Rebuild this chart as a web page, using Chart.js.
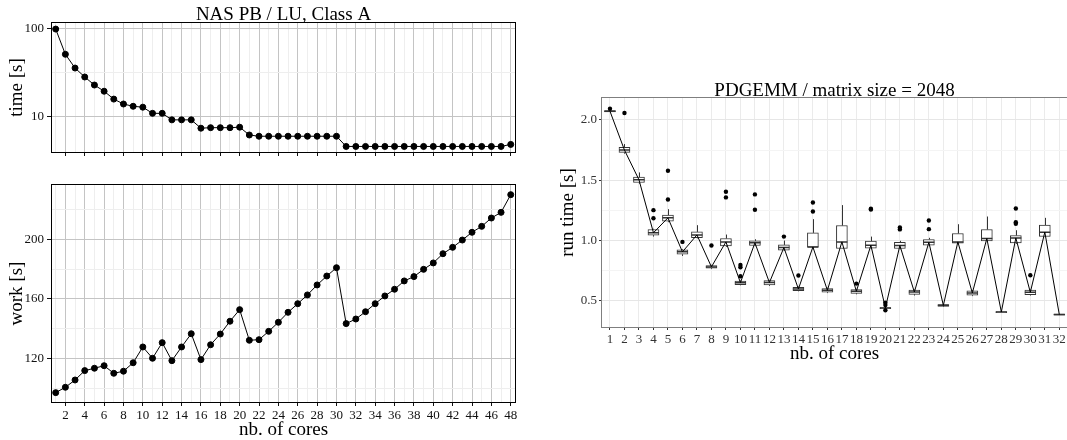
<!DOCTYPE html>
<html>
<head>
<meta charset="utf-8">
<script src="https://cdn.jsdelivr.net/npm/chart.js@4.4.1/dist/chart.umd.min.js"></script>
<style>
  body { margin: 0; background: #fff; }
  .panel { position: absolute; }
</style>
</head>
<body>
<div class="panel" style="left:0;top:0;width:530px;height:160px"><canvas id="timeChart" width="530" height="160"></canvas></div>
<div class="panel" style="left:0;top:160px;width:530px;height:280px"><canvas id="workChart" width="530" height="280"></canvas></div>
<div class="panel" style="left:530px;top:0;width:537px;height:440px"><canvas id="pdgemmChart" width="537" height="440"></canvas></div>
<script>
// NAS PB / LU, Class A
var nasCores = [1, 2, 3, 4, 5, 6, 7, 8, 9, 10, 11, 12, 13, 14, 15, 16, 17, 18, 19, 20, 21, 22, 23, 24,
  25, 26, 27, 28, 29, 30, 31, 32, 33, 34, 35, 36, 37, 38, 39, 40, 41, 42, 43, 44, 45, 46, 47, 48];
var nasTime = [98, 50.8, 35.5, 28.1, 22.8, 19.4, 15.8, 13.9, 13.1, 12.8, 10.9, 10.9, 9.2, 9.2, 9.2, 7.4,
  7.5, 7.5, 7.5, 7.6, 6.2, 6.0, 6.0, 6.0, 6.0, 6.0, 6.0, 6.0, 6.0, 6.0, 4.6, 4.6, 4.6, 4.6, 4.6, 4.6,
  4.6, 4.6, 4.6, 4.6, 4.6, 4.6, 4.6, 4.6, 4.6, 4.6, 4.6, 4.85];
var nasWork = [96.9, 100.5, 105.4, 111.7, 113.3, 115.0, 109.9, 111.3, 117.0, 127.6, 120.0, 130.5, 118.4,
  127.6, 136.5, 119.1, 129.1, 136.3, 144.9, 152.7, 132.1, 132.5, 138.1, 144.2, 150.9, 156.7, 162.6,
  169.3, 175.3, 180.9, 143.3, 146.4, 151.3, 156.7, 161.9, 166.4, 172.0, 174.9, 179.8, 184.1, 190.3,
  194.6, 199.5, 204.7, 208.7, 214.3, 218.1, 230.0];
var nasTickLabels = [2, 4, 6, 8, 10, 12, 14, 16, 18, 20, 22, 24, 26, 28, 30, 32, 34, 36, 38, 40, 42, 44, 46, 48];
var timeTicks = [10, 100];
var timeMinorTicks = [31.62];
var workTicks = [120, 160, 200];
var workMinorTicks = [100, 140, 180, 220];

// PDGEMM / matrix size = 2048
var pdgemmCores = [1, 2, 3, 4, 5, 6, 7, 8, 9, 10, 11, 12, 13, 14, 15, 16, 17, 18, 19, 20, 21, 22, 23, 24,
  25, 26, 27, 28, 29, 30, 31, 32];
var pdgemmQ1 = [2.068, 1.731, 1.48, 1.042, 1.158, 0.883, 1.022, 0.767, 0.953, 0.631, 0.956, 0.628, 0.917,
  0.581, 0.942, 0.567, 0.931, 0.558, 0.933, 0.43, 0.931, 0.55, 0.958, 0.45, 0.975, 0.542, 0.994, 0.398,
  0.978, 0.547, 1.031, 0.377];
var pdgemmMedian = [2.073, 1.75, 1.503, 1.062, 1.186, 0.903, 1.044, 0.778, 0.986, 0.647, 0.978, 0.648, 0.939,
  0.594, 0.944, 0.583, 0.986, 0.575, 0.958, 0.437, 0.956, 0.569, 0.983, 0.458, 0.986, 0.561, 1.014, 0.403,
  1.019, 0.567, 1.067, 0.381];
var pdgemmQ3 = [2.078, 1.772, 1.525, 1.089, 1.208, 0.919, 1.069, 0.789, 1.014, 0.661, 0.994, 0.664, 0.961,
  0.608, 1.061, 0.597, 1.122, 0.589, 0.992, 0.44, 0.983, 0.586, 1.006, 0.464, 1.056, 0.578, 1.089, 0.406,
  1.039, 0.586, 1.125, 0.385];
var pdgemmLow = [2.068, 1.72, 1.47, 1.03, 1.15, 0.869, 1.015, 0.76, 0.945, 0.625, 0.95, 0.62, 0.91, 0.575,
  0.94, 0.56, 0.93, 0.55, 0.925, 0.425, 0.925, 0.54, 0.95, 0.445, 0.97, 0.535, 0.99, 0.398, 0.97, 0.54,
  1.025, 0.377];
var pdgemmHigh = [2.078, 1.8, 1.564, 1.095, 1.258, 0.925, 1.125, 0.795, 1.047, 0.665, 1.008, 0.67, 0.997,
  0.615, 1.175, 0.605, 1.292, 0.595, 1.03, 0.445, 0.995, 0.59, 1.02, 0.47, 1.133, 0.585, 1.197, 0.406,
  1.083, 0.59, 1.186, 0.385];
var outlierCores = [1, 2, 4, 4, 5, 5, 6, 8, 9, 9, 10, 10, 10, 11, 11, 13, 14, 15, 15, 18, 19, 19, 20, 20,
  20, 21, 21, 23, 23, 29, 29, 29, 30];
var outlierValues = [2.094, 2.058, 1.25, 1.183, 1.578, 1.339, 0.986, 0.956, 1.403, 1.356, 0.794, 0.775, 0.70,
  1.381, 1.253, 1.03, 0.706, 1.314, 1.239, 0.639, 1.256, 1.262, 0.48, 0.417, 0.46, 1.106, 1.09, 1.164,
  1.092, 1.264, 1.136, 1.15, 0.708];
var pdgemmTicks = [0.5, 1.0, 1.5, 2.0];
var pdgemmMinorTicks = [0.75, 1.25, 1.75];

var SERIF = '"Liberation Serif", "Times New Roman", serif';
Chart.defaults.font.family = SERIF;
Chart.defaults.animation = false;
Chart.defaults.events = [];
Chart.defaults.plugins.legend.display = false;
Chart.defaults.plugins.tooltip.enabled = false;

// frame around the plot area plus the panel title
var panelBox = {
  id: 'panelBox',
  afterDraw: function (chart, args, opts) {
    var a = chart.chartArea;
    var ctx = chart.ctx;
    ctx.save();
    ctx.strokeStyle = opts.color;
    ctx.lineWidth = 1;
    ctx.strokeRect(Math.round(a.left) - 0.5, Math.round(a.top) - 0.5,
      Math.round(a.right - a.left) + 1, Math.round(a.bottom - a.top) + 1);
    if (opts.title) {
      ctx.font = '19px ' + SERIF;
      ctx.fillStyle = '#000';
      ctx.textAlign = 'center';
      ctx.textBaseline = 'alphabetic';
      ctx.fillText(opts.title, (a.left + a.right) / 2, opts.titleY);
    }
    ctx.restore();
  }
};

function setTicks(list) {
  return function (scale) {
    scale.ticks = list.slice().sort(function (a, b) { return a - b; })
      .map(function (v) { return { value: v }; });
  };
}

function fixWidth(w) {
  return function (scale) {
    scale.width = w;
    scale.paddingTop = 0;
    scale.paddingBottom = 0;
  };
}

function fixHeight(h) {
  return function (scale) {
    scale.height = h;
    scale.paddingLeft = 0;
    scale.paddingRight = 0;
  };
}

function nasXAxis(showLabels, height, withTitle) {
  return {
    type: 'linear',
    min: 0.618,
    max: 48.44,
    afterBuildTicks: setTicks(nasCores),
    afterFit: fixHeight(height),
    border: { display: false },
    grid: {
      color: function (c) { return c.tick && nasTickLabels.indexOf(c.tick.value) >= 0 ? '#c4c4c4' : '#eeeeee'; },
      tickColor: function (c) { return c.tick && nasTickLabels.indexOf(c.tick.value) >= 0 ? '#111' : 'rgba(0,0,0,0)'; },
      tickLength: 4
    },
    ticks: {
      display: showLabels,
      autoSkip: false,
      maxRotation: 0,
      padding: 2,
      color: '#111',
      font: { size: 13 },
      callback: function (v) { return nasTickLabels.indexOf(v) >= 0 ? String(v) : ''; }
    },
    title: {
      display: withTitle,
      text: 'nb. of cores',
      color: '#000',
      font: { size: 19, lineHeight: 1 },
      padding: { top: 0, bottom: 0.5 }
    }
  };
}

function nasYAxis(opts) {
  var major = opts.major;
  return {
    type: opts.type,
    min: opts.min,
    max: opts.max,
    afterBuildTicks: setTicks(major.concat(opts.minor)),
    afterFit: fixWidth(52),
    border: { display: false },
    grid: {
      color: function (c) { return c.tick && major.indexOf(c.tick.value) >= 0 ? '#c4c4c4' : '#eeeeee'; },
      tickColor: function (c) { return c.tick && major.indexOf(c.tick.value) >= 0 ? '#111' : 'rgba(0,0,0,0)'; },
      tickLength: 5
    },
    ticks: {
      autoSkip: false,
      padding: 3,
      color: '#111',
      font: { size: 13 },
      callback: function (v) { return major.indexOf(v) >= 0 ? String(v) : ''; }
    },
    title: {
      display: true,
      text: opts.title,
      color: '#000',
      font: { size: 19, lineHeight: 1 },
      padding: { top: 8, bottom: 0 }
    }
  };
}

function nasPoints(values) {
  return nasCores.map(function (c, i) { return { x: c, y: values[i] }; });
}

new Chart(document.getElementById('timeChart'), {
  type: 'line',
  data: {
    datasets: [{
      data: nasPoints(nasTime),
      borderColor: '#000',
      borderWidth: 1,
      pointRadius: 3,
      pointBackgroundColor: '#000',
      pointBorderColor: '#000'
    }]
  },
  options: {
    responsive: false,
    layout: { autoPadding: false, padding: { left: 0, top: 23, right: 15, bottom: 0 } },
    scales: {
      x: nasXAxis(false, 8, false),
      y: nasYAxis({ type: 'logarithmic', min: 3.98, max: 114.8, major: timeTicks, minor: timeMinorTicks, title: 'time [s]' })
    },
    plugins: { panelBox: { color: '#000', title: 'NAS PB / LU, Class A', titleY: 20 } }
  },
  plugins: [panelBox]
});

new Chart(document.getElementById('workChart'), {
  type: 'line',
  data: {
    datasets: [{
      data: nasPoints(nasWork),
      borderColor: '#000',
      borderWidth: 1,
      pointRadius: 3,
      pointBackgroundColor: '#000',
      pointBorderColor: '#000'
    }]
  },
  options: {
    responsive: false,
    layout: { autoPadding: false, padding: { left: 0, top: 25, right: 15, bottom: 0 } },
    scales: {
      x: nasXAxis(true, 38, true),
      y: nasYAxis({ type: 'linear', min: 90.6, max: 236.5, major: workTicks, minor: workMinorTicks, title: 'work [s]' })
    },
    plugins: { panelBox: { color: '#000' } }
  },
  plugins: [panelBox]
});

// whiskers under the boxes, medians on top of them
var boxParts = {
  id: 'boxParts',
  beforeDatasetsDraw: function (chart) {
    var x = chart.scales.x, y = chart.scales.y, ctx = chart.ctx;
    ctx.save();
    ctx.strokeStyle = '#333';
    ctx.lineWidth = 1;
    ctx.beginPath();
    pdgemmCores.forEach(function (c, i) {
      var px = Math.round(x.getPixelForValue(c)) + 0.5;
      ctx.moveTo(px, y.getPixelForValue(pdgemmHigh[i]));
      ctx.lineTo(px, y.getPixelForValue(pdgemmQ3[i]));
      ctx.moveTo(px, y.getPixelForValue(pdgemmQ1[i]));
      ctx.lineTo(px, y.getPixelForValue(pdgemmLow[i]));
    });
    ctx.stroke();
    ctx.restore();
  },
  afterDatasetDraw: function (chart, args) {
    if (args.index !== 0) return;
    var x = chart.scales.x, y = chart.scales.y, ctx = chart.ctx;
    ctx.save();
    ctx.strokeStyle = '#333';
    ctx.lineWidth = 1.5;
    ctx.beginPath();
    pdgemmCores.forEach(function (c, i) {
      var px = x.getPixelForValue(c);
      var py = y.getPixelForValue(pdgemmMedian[i]);
      ctx.moveTo(px - 5.5, py);
      ctx.lineTo(px + 5.5, py);
    });
    ctx.stroke();
    ctx.restore();
  }
};

new Chart(document.getElementById('pdgemmChart'), {
  type: 'line',
  data: {
    datasets: [
      {
        type: 'bar',
        data: pdgemmCores.map(function (c, i) { return { x: c, y: [pdgemmQ1[i], pdgemmQ3[i]] }; }),
        backgroundColor: '#fff',
        borderColor: '#333',
        borderWidth: 1,
        borderSkipped: false,
        barThickness: 11,
        order: 3
      },
      {
        type: 'line',
        data: pdgemmCores.map(function (c, i) { return { x: c, y: pdgemmMedian[i] }; }),
        borderColor: '#000',
        borderWidth: 1,
        pointRadius: 0,
        order: 2
      },
      {
        type: 'scatter',
        data: outlierCores.map(function (c, i) { return { x: c, y: outlierValues[i] }; }),
        pointRadius: 2.2,
        pointBackgroundColor: '#000',
        pointBorderColor: '#000',
        pointBorderWidth: 0,
        order: 1
      }
    ]
  },
  options: {
    responsive: false,
    layout: { autoPadding: false, padding: { left: 0, top: 98, right: 0, bottom: 0 } },
    scales: {
      x: {
        type: 'linear',
        min: 0.45,
        max: 32.53,
        offset: false,
        afterBuildTicks: setTicks(pdgemmCores),
        afterFit: fixHeight(113),
        border: { display: false },
        grid: { offset: false, color: '#ebebeb', tickColor: '#333', tickLength: 3 },
        ticks: { autoSkip: false, maxRotation: 0, padding: 2, color: '#333', font: { size: 13 } },
        title: {
          display: true,
          text: 'nb. of cores',
          color: '#000',
          font: { size: 19, lineHeight: 1 },
          padding: { top: 0, bottom: 76.5 }
        }
      },
      y: {
        type: 'linear',
        min: 0.278,
        max: 2.183,
        afterBuildTicks: setTicks(pdgemmTicks.concat(pdgemmMinorTicks)),
        afterFit: fixWidth(72),
        border: { display: false },
        grid: {
          color: function (c) { return c.tick && pdgemmTicks.indexOf(c.tick.value) >= 0 ? '#e6e6e6' : '#f4f4f4'; },
          tickColor: function (c) { return c.tick && pdgemmTicks.indexOf(c.tick.value) >= 0 ? '#333' : 'rgba(0,0,0,0)'; },
          tickLength: 3
        },
        ticks: {
          autoSkip: false,
          padding: 2,
          color: '#333',
          font: { size: 13 },
          callback: function (v) { return pdgemmTicks.indexOf(v) >= 0 ? v.toFixed(1) : ''; }
        },
        title: {
          display: true,
          text: 'run time [s]',
          color: '#000',
          font: { size: 19, lineHeight: 1 },
          padding: { top: 28.5, bottom: 0 }
        }
      }
    },
    plugins: { panelBox: { color: '#7f7f7f', title: 'PDGEMM / matrix size = 2048', titleY: 95.5 } }
  },
  plugins: [panelBox, boxParts]
});
</script>
</body>
</html>
